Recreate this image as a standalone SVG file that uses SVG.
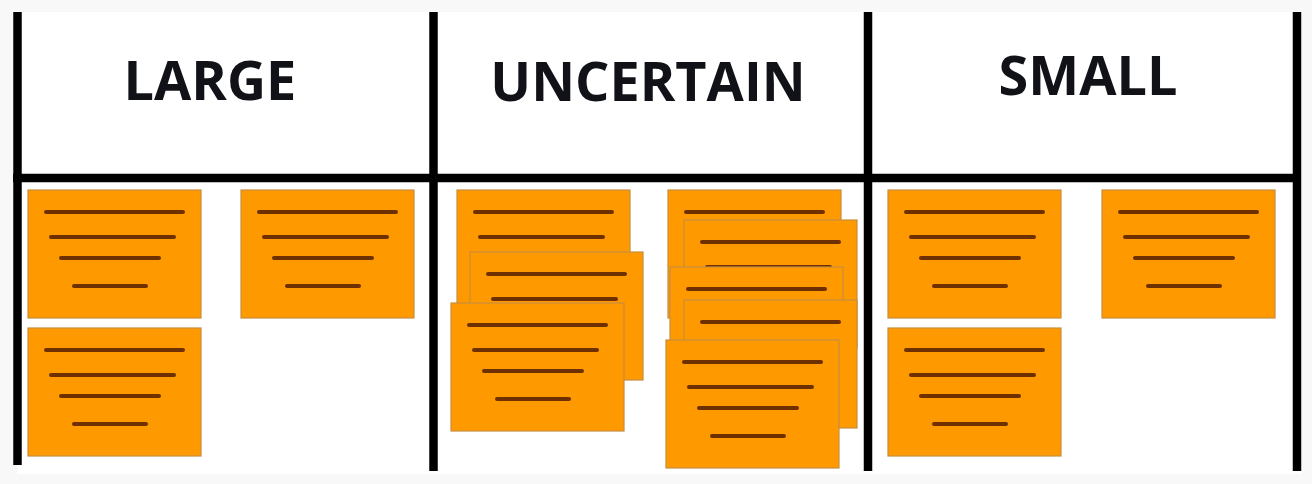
<svg xmlns="http://www.w3.org/2000/svg" xmlns:xlink="http://www.w3.org/1999/xlink" width="1312" height="484" viewBox="0 0 1312 484">
<style>
.hdr{font-family:"Open Sans","Liberation Sans",sans-serif;font-weight:700;font-size:54px;fill:#111118;text-anchor:middle}
.frame{stroke:#000;stroke-width:8.5;fill:none}
.card{fill:#ff9900;stroke:#c98d3c;stroke-width:1.2}
.ln{stroke:#6e3000;stroke-width:4;stroke-linecap:round}
</style>
<defs>
<g id="card">
<rect class="card" x="0" y="0" width="173" height="128"/>
<line class="ln" x1="18" y1="22" x2="155" y2="22"/>
<line class="ln" x1="23" y1="47" x2="146" y2="47"/>
<line class="ln" x1="33" y1="68" x2="131" y2="68"/>
<line class="ln" x1="46" y1="96" x2="118" y2="96"/>
</g>
</defs>
<rect x="0" y="0" width="1312" height="484" fill="#f8f8f8"/>
<rect x="17" y="12" width="1285" height="462" fill="#ffffff"/>
<g id="frame">
<line class="frame" x1="17.5" y1="12" x2="17.5" y2="465"/>
<line class="frame" x1="433.5" y1="12" x2="433.5" y2="471"/>
<line class="frame" x1="868" y1="12" x2="868" y2="471"/>
<line class="frame" x1="1297" y1="12" x2="1297" y2="471"/>
<line class="frame" x1="13" y1="178" x2="1301" y2="178" stroke-width="9"/>
</g>
<g id="header-large"><text class="hdr" x="210" y="100">LARGE</text></g>
<g id="header-uncertain"><text class="hdr" x="648" y="101">UNCERTAIN</text></g>
<g id="header-small"><text class="hdr" x="1088" y="95">SMALL</text></g>
<g id="large-cards">
<use xlink:href="#card" href="#card" x="28" y="190"/>
<use xlink:href="#card" href="#card" x="241" y="190"/>
<use xlink:href="#card" href="#card" x="28" y="328"/>
</g>
<g id="uncertain-left-stack">
<use xlink:href="#card" href="#card" x="457" y="190"/>
<use xlink:href="#card" href="#card" x="470" y="252"/>
<use xlink:href="#card" href="#card" x="451" y="303"/>
</g>
<g id="uncertain-right-stack">
<use xlink:href="#card" href="#card" x="668" y="190"/>
<use xlink:href="#card" href="#card" x="684" y="220"/>
<use xlink:href="#card" href="#card" x="670" y="267"/>
<use xlink:href="#card" href="#card" x="684" y="300"/>
<use xlink:href="#card" href="#card" x="666" y="340"/>
</g>
<g id="small-cards">
<use xlink:href="#card" href="#card" x="888" y="190"/>
<use xlink:href="#card" href="#card" x="1102" y="190"/>
<use xlink:href="#card" href="#card" x="888" y="328"/>
</g>
</svg>
